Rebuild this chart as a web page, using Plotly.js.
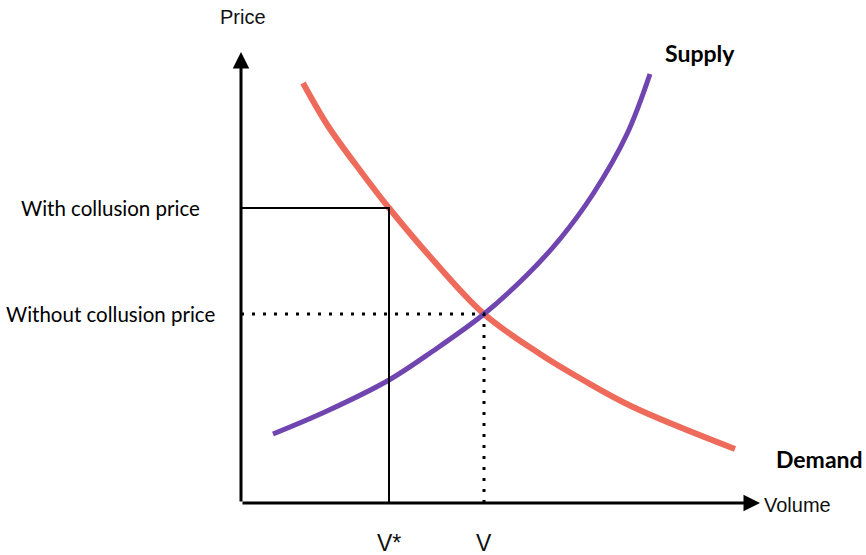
<!DOCTYPE html>
<html>
<head>
<meta charset="utf-8">
<script src="https://cdn.plot.ly/plotly-3.0.1.min.js"></script>
<style>html,body{margin:0;padding:0;background:#fff;}#chart{width:866px;height:555px;}</style>
</head>
<body>
<div id="chart"></div>
<script>
// Demand curve (volume, price)
var demandVolume = [62, 87, 121, 148, 192, 243, 299, 342, 392, 494];
var demandPrice  = [420, 377, 330, 295, 243, 189, 149, 123, 96, 54];
// Supply curve
var supplyVolume = [32, 86, 148, 192, 243, 286, 319, 352, 386, 409];
var supplyPrice  = [69, 92, 123, 152, 189, 228, 264, 309, 369, 429];
// Reference levels
var priceLabels  = ['With collusion price', 'Without collusion price'];
var priceLevels  = [295, 189];
var volumeLabels = ['V*', 'V'];
var volumeLevels = [148, 243];
var axisMax = {volume: 519, price: 451};

var labelFont = 'Lato, "Open Sans", sans-serif';
var sansFont = '"Liberation Sans", Arial, sans-serif';

var traces = [
  {x: demandVolume, y: demandPrice, mode: 'lines', line: {color: '#ee6b5b', width: 6, shape: 'spline', smoothing: 1}, hoverinfo: 'skip', cliponaxis: false},
  {x: supplyVolume, y: supplyPrice, mode: 'lines', line: {color: '#7045b0', width: 5, shape: 'spline', smoothing: 1}, hoverinfo: 'skip', cliponaxis: false},
  {x: [0, volumeLevels[0], volumeLevels[0]], y: [priceLevels[0], priceLevels[0], 0], mode: 'lines', line: {color: '#000', width: 2}, hoverinfo: 'skip', cliponaxis: false},
  {x: [0, volumeLevels[1], volumeLevels[1]], y: [priceLevels[1], priceLevels[1], 0], mode: 'lines', line: {color: '#000', width: 3, dash: '3px,8px'}, hoverinfo: 'skip', cliponaxis: false}
];

var annotations = [
  // axes with arrowheads
  {x: axisMax.volume, y: 0, ax: 0, ay: 0, xref: 'x', yref: 'y', axref: 'x', ayref: 'y', text: '', showarrow: true, arrowhead: 2, arrowsize: 1.1, arrowwidth: 3, arrowcolor: '#000', standoff: 0},
  {x: 0, y: axisMax.price, ax: 0, ay: 0, xref: 'x', yref: 'y', axref: 'x', ayref: 'y', text: '', showarrow: true, arrowhead: 2, arrowsize: 1.1, arrowwidth: 3, arrowcolor: '#000', standoff: 0},
  {x: 0.004, y: 1, xref: 'paper', yref: 'paper', yshift: 35, text: 'Price', showarrow: false, xanchor: 'center', yanchor: 'middle', font: {family: sansFont, size: 20, color: '#111'}},
  {x: 1.004, y: 0, xref: 'paper', yref: 'paper', yshift: -2, text: 'Volume', showarrow: false, xanchor: 'left', yanchor: 'middle', font: {family: sansFont, size: 20, color: '#111'}},
  {x: 0.884, y: 0.998, xref: 'paper', yref: 'paper', text: '<b>Supply</b>', showarrow: false, xanchor: 'center', yanchor: 'middle', font: {family: labelFont, size: 23, color: '#000'}},
  {x: 1.1156, y: 0.098, xref: 'paper', yref: 'paper', text: '<b>Demand</b>', showarrow: false, xanchor: 'center', yanchor: 'middle', font: {family: labelFont, size: 23, color: '#000'}}
];
priceLabels.forEach(function (t, i) {
  annotations.push({x: -0.2524, y: priceLevels[i] / axisMax.price, xref: 'paper', yref: 'paper', text: t, showarrow: false, xanchor: 'center', yanchor: 'middle', font: {family: labelFont, size: 20.5, color: '#000'}});
});
volumeLabels.forEach(function (t, i) {
  annotations.push({x: volumeLevels[i] / axisMax.volume, y: 0, xref: 'paper', yref: 'paper', yshift: -40, text: t, showarrow: false, xanchor: 'center', yanchor: 'middle', font: {family: sansFont, size: 23, color: '#111'}});
});

var layout = {
  width: 866, height: 555,
  margin: {l: 241, r: 106, t: 52, b: 52, pad: 0},
  paper_bgcolor: '#fff', plot_bgcolor: '#fff',
  showlegend: false,
  xaxis: {range: [0, axisMax.volume], visible: false, fixedrange: true},
  yaxis: {range: [0, axisMax.price], visible: false, fixedrange: true},
  annotations: annotations
};

Plotly.newPlot('chart', traces, layout, {staticPlot: true, displayModeBar: false});
</script>
</body>
</html>
